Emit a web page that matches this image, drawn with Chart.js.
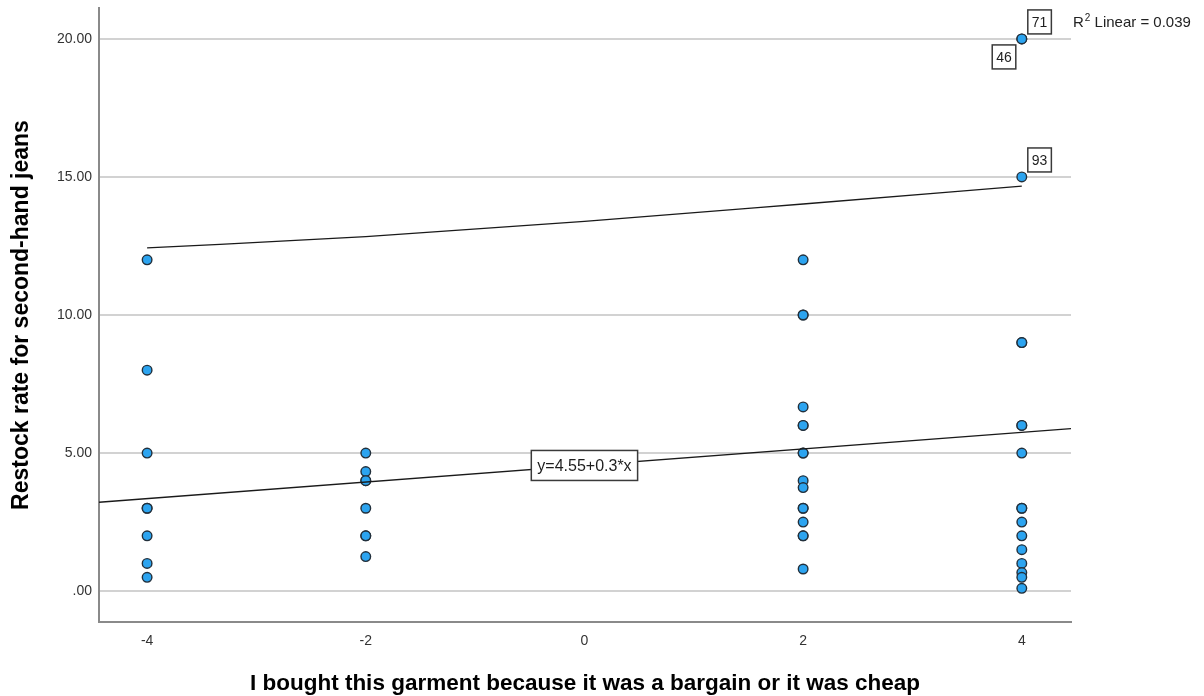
<!DOCTYPE html>
<html>
<head>
<meta charset="utf-8">
<title>Restock rate vs bargain motive</title>
<script src="https://cdn.jsdelivr.net/npm/chart.js@4.4.1/dist/chart.umd.min.js"></script>
<style>
  html, body { margin: 0; padding: 0; background: #ffffff; }
  #wrap { width: 1204px; height: 696px; }
</style>
</head>
<body>
<div id="wrap"><canvas id="c" width="1204" height="696"></canvas></div>
<script>
// Restock rate observations, grouped by the agreement score on the x axis
const groupX = [-4, -2, 2, 4];
const restockAtMinus4 = [12, 8, 5, 3, 3, 2, 1, 0.5];
const restockAtMinus2 = [5, 4.33, 4, 4, 3, 2, 2, 1.25];
const restockAt2 = [12, 10, 10, 6.67, 6, 6, 5, 5, 4, 3.75, 3, 3, 2.5, 2, 2, 0.8];
const restockAt4 = [20, 20, 15, 9, 9, 6, 6, 5, 3, 3, 2.5, 2, 1.5, 1, 0.67, 0.5, 0.1];

// Linear fit as stated in its label
const fitIntercept = 4.55;
const fitSlope = 0.3;
const fitLabel = 'y=4.55+0.3*x';
const rSquaredParts = ['R', '2', ' Linear = 0.039'];

// Upper interval curve of the fit
const intervalX = [-4, -2, 0, 2, 4];
const intervalUpper = [12.43, 12.84, 13.39, 14.02, 14.67];

// Case-number labels for outlying points
const caseLabels = ['71', '46', '93'];
const caseX = [4, 4, 4];
const caseY = [20, 20, 15];
const caseSide = ['ne', 'sw', 'ne'];

// Axis ticks and ranges
const xTickValues = [-4, -2, 0, 2, 4];
const xTickLabels = ['-4', '-2', '0', '2', '4'];
const yTickValues = [0, 5, 10, 15, 20];
const yTickLabels = ['.00', '5.00', '10.00', '15.00', '20.00'];
const xRange = [-4.44, 4.45];
const yRange = [-1.12, 21.12];

const xTitle = 'I bought this garment because it was a bargain or it was cheap';
const yTitle = 'Restock rate for second-hand jeans';

const FONT = "'Liberation Sans', Arial, sans-serif";

const groups = [restockAtMinus4, restockAtMinus2, restockAt2, restockAt4];
const scatterPoints = [];
groups.forEach((vals, i) => vals.forEach(v => scatterPoints.push({ x: groupX[i], y: v })));

const fitPoints = xRange.map(x => ({ x: x, y: fitIntercept + fitSlope * x }));
const intervalPoints = intervalX.map((x, i) => ({ x: x, y: intervalUpper[i] }));

function drawBox(ctx, left, top, w, h, text) {
  ctx.fillStyle = '#ffffff';
  ctx.fillRect(left, top, w, h);
  ctx.strokeStyle = '#3a3a3a';
  ctx.lineWidth = 1.5;
  ctx.strokeRect(left, top, w, h);
  ctx.fillStyle = '#1e1e1e';
  ctx.textAlign = 'center';
  ctx.textBaseline = 'middle';
  ctx.fillText(text, left + w / 2, top + h / 2 + 1);
}

const labelsPlugin = {
  id: 'fitAndCaseLabels',
  afterDatasetsDraw(chart) {
    const { ctx, chartArea } = chart;
    const xs = chart.scales.x, ys = chart.scales.y;
    ctx.save();

    // equation box centred on the fit line at x = 0
    ctx.font = '16px ' + FONT;
    const ew = ctx.measureText(fitLabel).width + 12;
    const eh = 30;
    const ex = xs.getPixelForValue(0);
    const ey = ys.getPixelForValue(fitIntercept);
    drawBox(ctx, ex - ew / 2, ey - eh / 2, ew, eh, fitLabel);

    // case numbers next to their points
    ctx.font = '14px ' + FONT;
    caseLabels.forEach((lab, i) => {
      const px = xs.getPixelForValue(caseX[i]);
      const py = ys.getPixelForValue(caseY[i]);
      const w = ctx.measureText(lab).width + 8;
      const h = 24;
      if (caseSide[i] === 'ne') {
        drawBox(ctx, px + 6, py - 5 - h, w, h, lab);
      } else {
        drawBox(ctx, px - 6 - w, py + 6, w, h, lab);
      }
    });

    // fit statistic beside the plot, with a raised exponent
    ctx.fillStyle = '#222222';
    ctx.textAlign = 'left';
    ctx.textBaseline = 'alphabetic';
    let tx = chartArea.right + 2;
    const base = chartArea.top + 19;
    ctx.font = '15px ' + FONT;
    ctx.fillText(rSquaredParts[0], tx, base);
    tx += ctx.measureText(rSquaredParts[0]).width + 1;
    ctx.font = '10px ' + FONT;
    ctx.fillText(rSquaredParts[1], tx, base - 6);
    tx += ctx.measureText(rSquaredParts[1]).width;
    ctx.font = '15px ' + FONT;
    ctx.fillText(rSquaredParts[2], tx, base);

    ctx.restore();
  }
};

new Chart(document.getElementById('c'), {
  type: 'scatter',
  data: {
    datasets: [
      {
        type: 'line',
        data: fitPoints,
        borderColor: '#1a1a1a',
        borderWidth: 1.3,
        pointRadius: 0,
        fill: false
      },
      {
        type: 'line',
        data: intervalPoints,
        borderColor: '#1a1a1a',
        borderWidth: 1.3,
        pointRadius: 0,
        cubicInterpolationMode: 'monotone',
        fill: false
      },
      {
        type: 'scatter',
        data: scatterPoints,
        pointRadius: 4.8,
        pointBackgroundColor: '#2ca4f0',
        pointBorderColor: '#22303c',
        pointBorderWidth: 1.4
      }
    ]
  },
  options: {
    responsive: false,
    devicePixelRatio: 1,
    animation: false,
    events: [],
    layout: { padding: { left: 0, top: 8, right: 133, bottom: 0 } },
    plugins: {
      legend: { display: false },
      tooltip: { enabled: false }
    },
    scales: {
      x: {
        type: 'linear',
        min: xRange[0],
        max: xRange[1],
        afterBuildTicks: s => { s.ticks = xTickValues.map(v => ({ value: v })); },
        afterFit: s => { s.height = 74; s.paddingLeft = 0; s.paddingRight = 0; },
        ticks: {
          padding: 11,
          color: '#333333',
          font: { family: FONT, size: 14 },
          maxRotation: 0,
          callback: (v, i) => xTickLabels[i]
        },
        grid: { display: false, drawTicks: false },
        border: { display: true, color: '#8a8a8a', width: 2 },
        title: {
          display: true,
          text: xTitle,
          color: '#000000',
          font: { family: FONT, size: 22.5, weight: 'bold', lineHeight: 1.0 },
          padding: { top: 0, bottom: 1 }
        }
      },
      y: {
        type: 'linear',
        min: yRange[0],
        max: yRange[1],
        afterBuildTicks: s => { s.ticks = yTickValues.map(v => ({ value: v })); },
        afterFit: s => { s.width = 99; s.paddingTop = 0; s.paddingBottom = 0; },
        ticks: {
          padding: 7,
          color: '#333333',
          font: { family: FONT, size: 14 },
          callback: (v, i) => yTickLabels[i]
        },
        grid: { color: '#d2d2d2', lineWidth: 2, drawTicks: false },
        border: { display: true, color: '#8a8a8a', width: 2 },
        title: {
          display: true,
          text: yTitle,
          color: '#000000',
          font: { family: FONT, size: 23, weight: 'bold', lineHeight: 1.0 },
          padding: { top: 10, bottom: 0 }
        }
      }
    }
  },
  plugins: [labelsPlugin]
});
</script>
</body>
</html>
